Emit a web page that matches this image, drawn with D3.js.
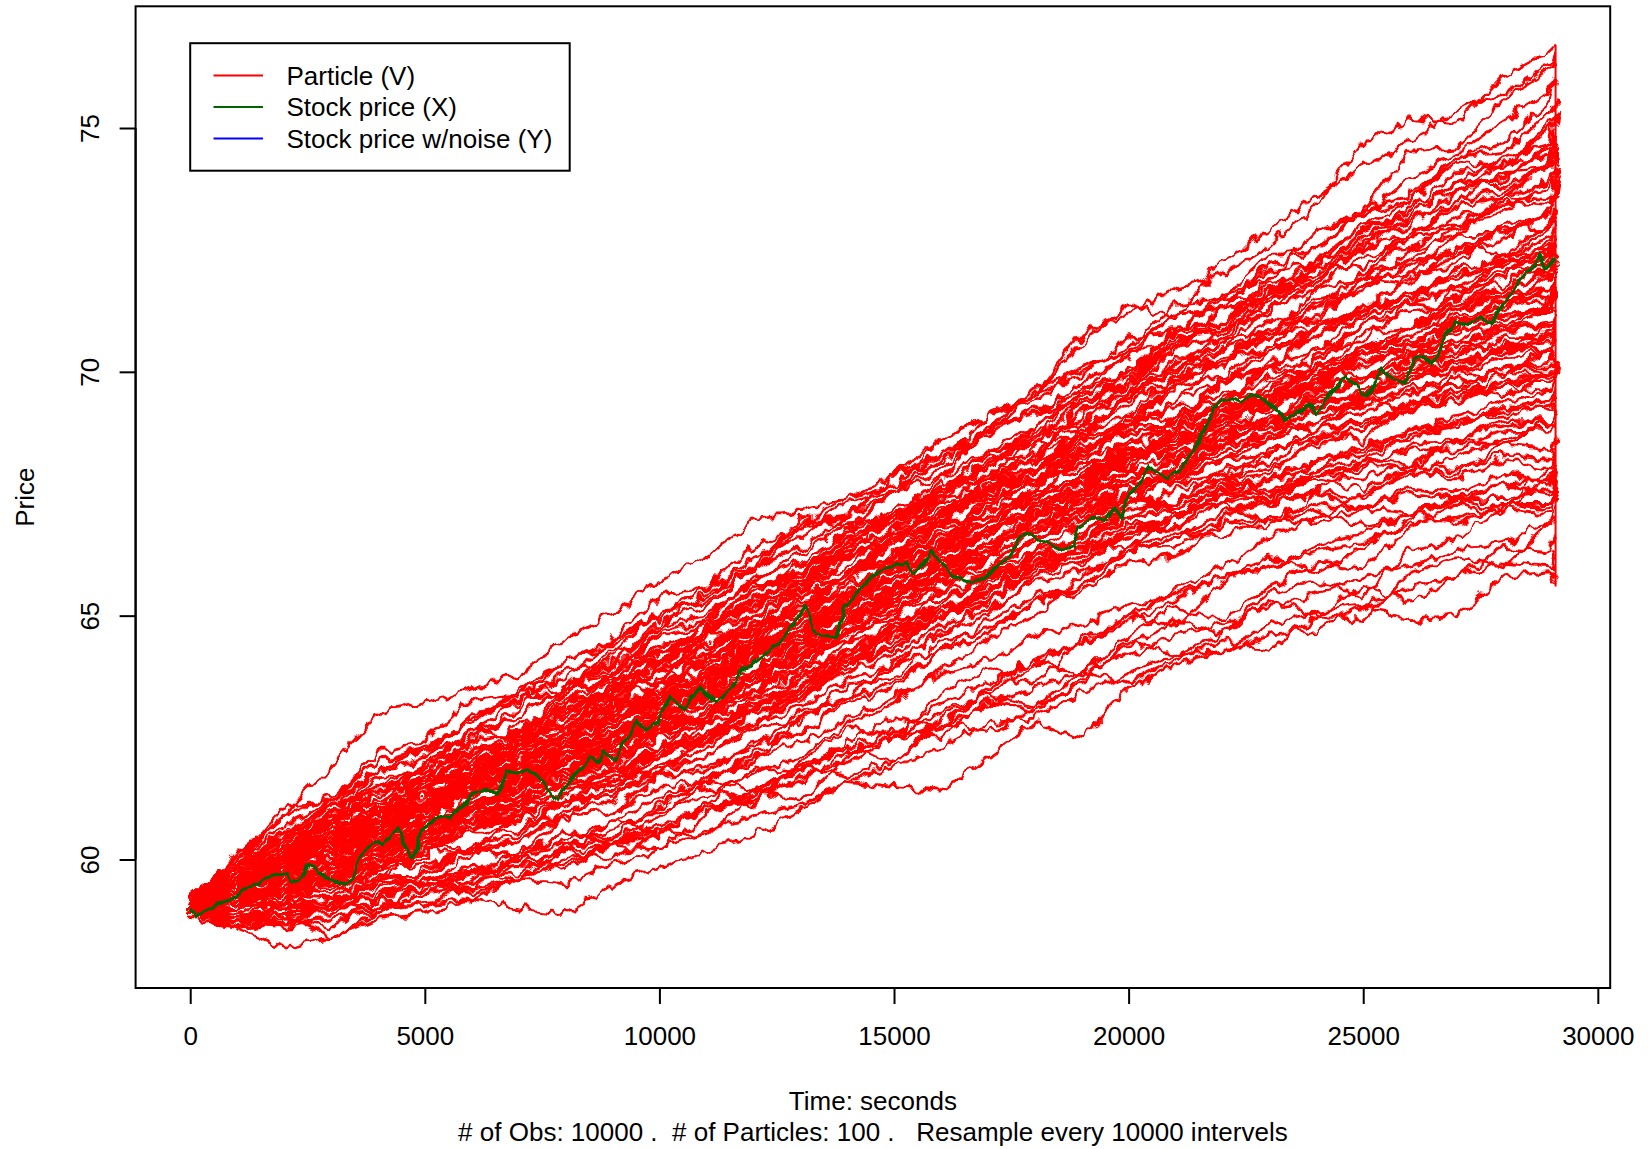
<!DOCTYPE html>
<html>
<head>
<meta charset="utf-8">
<script src="https://cdn.jsdelivr.net/npm/d3@7"></script>
<style>
  html, body { margin: 0; padding: 0; background: #fff; }
  svg text { font-family: "Liberation Sans", Arial, Helvetica, sans-serif; fill: #000; }
</style>
</head>
<body>
<svg id="chart" width="1648" height="1149"></svg>
<script>
// time grid (seconds) shared by every particle
const timeSteps = [0,1000,2000,3000,4000,5000,6000,7000,8000,9000,10000,11000,12000,13000,14000,15000,
  16000,17000,18000,19000,20000,21000,22000,23000,24000,25000,26000,27000,28000,29000,29100];

// particle paths (V), one row per particle
const particlePaths = [
  [59.0,60.1,60.9,61.9,63.0,63.2,63.5,63.8,64.5,65.1,65.7,66.2,67.0,67.1,67.4,67.9,68.6,69.1,69.5,70.8,71.2,71.7,72.0,72.6,73.4,74.7,75.2,75.1,76.1,76.6,76.7],
  [59.0,58.6,58.2,58.4,58.8,58.9,59.2,59.0,58.9,59.5,59.8,60.2,60.5,61.0,61.6,61.5,61.4,62.1,62.8,62.5,63.5,64.0,64.3,64.6,64.7,65.2,64.9,65.0,65.8,65.9,65.6],
  [59.0,58.7,58.9,58.4,58.9,59.5,59.3,59.6,60.2,60.0,60.6,60.5,61.3,61.9,61.7,62.0,62.8,62.6,63.1,63.9,63.6,64.1,64.5,64.3,65.0,64.9,65.9,66.2,66.0,66.9,67.2],
  [59.0,59.2,58.8,59.1,59.7,59.5,59.4,60.1,60.6,60.3,60.9,61.6,61.4,61.2,62.1,62.7,62.5,63.3,63.0,63.7,64.4,64.9,64.6,65.5,65.7,65.4,66.3,66.6,67.2,67.1,67.8],
  [59.0,58.6,58.8,58.6,59.2,59.0,59.6,60.1,59.8,60.3,60.2,60.9,61.4,61.9,62.3,62.0,62.9,63.4,63.1,63.6,64.5,64.2,64.6,65.3,65.0,65.6,65.3,65.8,66.4,66.3,66.6],
  [59.0,58.7,58.6,59.1,58.9,59.3,59.7,59.6,60.2,60.8,60.5,61.1,61.9,61.8,62.4,62.9,62.7,63.5,64.1,63.8,64.6,65.2,64.9,65.6,66.1,66.0,66.8,67.3,67.1,67.9,68.2],
  [59.1,58.8,59.2,59.5,59.1,59.8,60.3,60.0,60.6,60.4,61.2,61.5,61.1,62.0,62.7,62.5,63.4,63.9,63.6,64.5,65.0,64.8,65.7,66.2,65.9,66.4,67.0,67.4,67.2,68.1,68.5],
  [59.1,59.7,60.6,60.7,61.7,61.8,62.6,63.3,63.4,64.2,65.1,65.3,66.0,67.0,66.8,67.6,68.6,69.1,69.5,70.6,71.4,71.1,72.3,72.9,73.6,74.2,74.7,75.4,75.7,76.3,76.3],
  [59.0,59.6,59.9,60.7,60.5,61.4,62.0,62.3,63.1,63.0,64.0,64.7,65.2,65.9,66.6,66.4,67.6,68.3,68.1,69.4,69.8,70.9,71.0,71.9,72.9,73.3,74.5,74.6,75.6,76.2,76.5],
  [59.1,59.3,60.1,60.9,61.0,61.7,62.3,62.4,63.2,63.8,63.6,64.7,65.3,65.5,66.4,67.1,67.0,68.1,68.7,69.0,70.1,70.4,71.3,71.2,72.3,73.0,73.5,74.4,74.7,75.6,75.9],
  [59.2,60.0,60.7,61.2,62.0,62.2,62.9,63.4,63.5,64.3,64.1,64.9,65.7,65.6,66.4,67.2,67.5,68.0,68.9,69.4,69.7,70.6,71.0,71.8,72.0,72.9,73.2,73.9,74.4,74.7,75.2],
  [59.0,59.5,59.3,60.2,60.7,61.0,61.6,61.4,62.3,63.0,63.2,63.9,64.8,65.1,65.9,66.2,67.1,67.6,67.9,68.6,69.6,70.0,70.9,71.2,71.9,72.6,73.4,73.7,74.3,74.4,74.9],
  [59.0,59.2,59.4,59.9,59.8,60.5,61.0,61.6,61.5,62.3,63.0,63.3,64.3,64.9,65.2,66.1,66.4,67.2,68.0,68.1,69.0,69.8,70.2,70.7,71.7,71.9,72.8,73.4,73.6,74.3,74.6],
  [59.1,59.9,60.6,61.1,61.8,62.3,62.4,63.1,63.9,64.0,64.8,65.0,65.7,66.3,66.9,67.0,67.8,68.4,68.9,69.7,69.9,70.8,71.0,71.6,72.3,72.5,73.2,73.9,73.8,74.2,74.4],
  [59.0,59.5,59.9,60.3,60.9,61.0,61.8,61.9,62.5,62.8,63.3,63.6,64.4,64.6,65.5,65.9,66.3,67.2,67.3,68.4,68.9,69.4,70.2,70.5,71.4,71.7,72.5,72.8,73.6,73.9,74.2],
  [59.1,59.7,60.4,60.8,61.5,61.6,62.5,62.9,63.6,64.0,64.9,65.2,66.0,66.4,67.0,67.6,68.0,68.8,69.2,69.6,70.4,70.5,71.3,71.4,72.2,72.1,72.9,73.0,73.6,73.5,73.9],
  [58.9,59.2,59.0,59.6,59.5,60.2,60.7,61.0,61.7,61.8,62.7,63.0,63.8,64.1,64.9,65.3,66.3,66.6,67.3,67.6,68.5,69.0,69.8,70.0,70.9,71.3,71.9,72.4,72.7,73.3,73.5],
  [59.0,59.4,59.8,60.0,60.8,60.9,61.7,61.9,62.8,63.1,63.9,64.2,65.0,65.4,66.2,66.5,67.4,67.6,68.5,68.7,69.6,69.8,70.5,70.7,71.3,71.7,72.2,72.5,72.9,73.0,73.3],
  [59.2,60.0,60.9,61.3,62.0,62.3,62.9,63.3,63.4,64.1,64.0,64.9,65.1,66.1,66.2,67.1,67.3,68.2,68.3,69.2,69.4,70.3,70.2,71.1,71.0,71.9,71.8,72.6,72.4,73.1,73.0],
  [59.0,59.1,59.6,59.6,60.3,60.3,61.0,61.0,61.7,62.0,62.5,62.8,63.6,63.8,64.7,64.9,65.9,66.2,67.1,67.4,68.3,68.7,69.5,69.6,70.5,70.6,71.4,71.7,72.3,72.4,72.8],
  [59.1,59.4,60.2,60.8,60.6,61.5,62.1,62.0,62.4,63.3,63.1,63.5,64.4,64.6,65.2,66.0,66.1,66.7,67.6,67.8,68.2,69.1,69.6,69.4,70.3,71.0,71.2,71.5,72.3,72.2,72.6],
  [59.0,59.6,59.7,60.1,61.0,61.1,61.4,62.4,62.5,63.2,63.9,63.7,64.4,65.3,65.4,66.0,66.9,67.0,67.6,68.5,68.7,69.0,69.8,70.1,70.2,71.0,71.4,71.3,72.0,72.5,72.4],
  [58.9,58.9,59.3,59.2,59.8,60.2,60.1,61.0,61.2,61.4,62.3,62.5,63.3,63.5,64.5,64.6,65.2,66.0,66.5,67.2,67.5,68.1,69.1,68.9,69.8,70.4,70.5,71.2,71.3,72.0,72.1],
  [59.1,59.8,59.9,60.7,60.8,61.0,61.7,61.5,62.1,62.2,62.9,62.8,63.9,64.2,64.6,65.6,65.7,66.3,67.1,67.2,68.0,68.8,68.9,69.5,69.6,70.5,70.6,70.9,71.6,71.5,71.9],
  [59.0,59.3,60.0,59.9,60.7,61.0,61.9,62.2,63.0,63.2,64.1,64.4,64.8,65.7,66.0,66.8,67.0,67.8,68.0,68.3,69.1,69.0,69.3,70.1,69.9,70.5,70.9,71.0,71.5,71.4,71.7],
  [59.0,59.2,59.6,60.2,60.1,60.9,61.5,61.7,62.0,63.0,63.1,63.5,64.4,64.8,65.1,66.1,66.4,66.7,67.6,67.8,68.6,68.4,69.3,69.5,69.6,70.4,70.3,71.0,71.2,71.3,71.5],
  [59.1,59.9,60.3,61.1,61.4,61.9,62.6,62.5,63.3,63.3,64.1,63.9,64.9,65.0,65.9,66.0,66.4,67.4,67.4,68.3,68.4,68.5,69.2,69.2,70.1,69.9,70.2,70.9,70.8,71.4,71.3],
  [58.9,59.3,59.1,59.8,59.9,60.6,60.6,61.5,61.6,62.3,62.9,62.9,63.9,64.0,64.9,65.6,65.5,66.5,66.7,67.4,68.0,67.9,68.8,68.8,69.5,69.9,69.8,70.6,70.5,70.9,71.0],
  [59.0,59.6,59.8,60.4,60.3,61.1,61.1,61.6,62.1,62.0,62.9,63.4,63.4,64.4,64.6,65.3,65.5,66.2,66.5,67.4,67.3,68.1,68.6,68.6,69.5,69.4,70.1,70.1,70.6,70.4,70.7],
  [59.1,59.8,60.0,61.0,60.9,61.8,61.9,62.3,62.5,63.0,63.0,63.8,63.9,64.6,65.0,65.4,66.1,66.2,67.1,67.1,67.8,68.2,68.2,68.9,68.8,69.5,69.5,70.0,69.9,70.5,70.4],
  [58.9,59.1,59.0,59.6,59.6,60.3,60.2,60.9,60.8,61.6,61.7,62.6,62.7,63.6,63.8,64.8,64.9,65.7,66.1,66.4,67.2,67.3,68.0,68.1,68.7,68.6,69.4,69.4,70.0,69.9,70.1],
  [59.0,59.7,59.8,60.6,60.7,61.6,61.6,62.5,62.6,63.5,63.4,64.4,64.7,65.2,65.9,66.2,66.9,67.1,67.8,68.1,68.3,68.7,68.5,69.1,68.8,69.5,69.2,69.9,69.5,70.0,69.8],
  [59.0,59.2,59.8,59.8,60.5,60.6,61.2,61.2,61.8,61.8,62.3,62.5,63.2,63.3,64.1,64.3,65.0,65.2,66.1,66.0,66.8,66.8,67.6,67.5,68.2,68.3,68.8,68.9,69.3,69.2,69.5],
  [58.9,58.7,59.1,59.0,59.6,59.7,60.2,60.1,60.9,61.0,61.7,61.9,62.3,63.0,63.3,64.0,64.3,64.9,65.4,65.6,66.4,66.4,67.0,67.4,67.5,68.2,68.1,68.6,68.9,69.0,69.2],
  [59.0,59.5,59.7,60.3,60.5,61.1,61.0,61.7,61.7,62.4,62.3,63.1,63.3,63.9,64.2,64.9,65.1,65.5,66.2,66.3,66.9,66.8,67.5,67.4,67.9,68.1,68.0,68.6,68.5,69.0,68.9],
  [59.0,59.6,59.7,60.5,60.3,60.9,60.7,61.2,61.1,61.7,61.8,62.1,62.7,62.8,63.6,63.7,64.5,64.7,65.3,65.5,66.1,66.2,66.9,66.8,67.5,67.4,68.0,67.9,68.5,68.4,68.6],
  [59.1,59.5,60.3,60.4,61.4,61.5,62.3,62.4,63.5,63.6,64.7,64.9,65.8,66.1,66.7,67.6,67.8,68.9,69.1,69.8,70.3,71.2,71.3,72.2,72.5,73.4,73.6,74.4,74.5,75.4,75.5],
  [59.0,59.3,59.4,60.0,60.0,60.8,60.8,61.8,62.0,62.9,63.3,64.2,64.4,65.4,65.7,66.6,66.8,67.9,68.2,69.2,69.6,70.5,70.7,71.6,72.0,72.9,73.3,74.1,74.2,75.1,75.3],
  [59.2,60.0,61.1,61.2,62.2,62.4,63.3,63.4,64.1,64.4,65.0,65.6,66.0,66.9,67.0,67.9,68.3,68.8,69.7,70.0,70.5,71.4,71.5,72.4,72.5,73.3,73.5,74.3,74.2,75.0,75.0],
  [59.0,59.2,60.0,60.3,61.0,61.1,62.1,62.5,63.6,63.8,64.8,65.5,65.9,66.8,67.0,67.9,68.1,69.1,69.4,70.1,70.4,71.2,71.3,72.1,72.2,73.0,73.2,73.9,73.9,74.7,74.8],
  [59.0,59.4,59.3,60.2,60.3,60.6,61.4,61.5,62.4,62.5,63.3,63.8,64.1,64.9,65.3,66.2,66.5,67.5,67.9,68.9,69.3,70.2,70.6,71.5,71.8,72.7,73.0,73.7,74.0,74.6,74.7],
  [59.1,59.9,60.1,61.0,61.3,62.0,62.2,62.6,63.4,63.7,64.4,64.6,65.4,65.7,66.5,67.0,67.4,68.4,68.5,69.4,69.8,70.6,70.9,71.7,71.9,72.8,73.1,73.5,74.1,74.2,74.5],
  [59.0,59.7,59.9,60.7,60.8,61.7,61.7,62.8,62.9,63.9,64.1,64.7,65.6,65.9,66.8,67.0,67.5,68.4,68.6,69.6,69.8,70.7,70.8,71.7,71.8,72.6,72.8,73.5,73.7,74.2,74.3],
  [58.9,59.0,59.4,59.3,59.9,60.0,60.9,61.0,62.1,62.3,63.3,63.4,64.4,64.8,65.3,66.3,66.5,67.4,67.7,68.6,68.9,69.8,70.2,70.9,71.3,72.0,72.3,73.0,73.3,74.0,74.1],
  [59.0,59.6,59.6,60.4,60.3,61.2,61.3,62.0,62.3,62.7,63.6,64.0,64.7,64.9,65.9,66.1,67.0,67.6,68.3,68.7,69.5,70.1,70.5,71.3,71.7,72.4,72.5,73.2,73.4,73.8,74.0],
  [59.2,59.8,60.6,60.9,61.8,62.1,63.0,63.2,64.1,64.5,65.4,65.6,66.4,66.8,67.4,67.7,68.3,68.7,69.6,69.9,70.7,70.8,71.5,71.5,72.2,72.1,72.8,72.9,73.5,73.4,73.8],
  [59.0,59.1,59.5,59.5,60.2,60.3,61.0,61.1,61.9,61.9,62.8,62.9,63.8,64.0,64.9,65.1,66.1,66.3,67.3,67.5,68.6,68.8,69.9,70.0,71.0,71.2,72.0,72.2,73.0,73.2,73.6],
  [59.1,59.7,60.0,60.7,60.9,61.6,61.7,62.5,62.6,63.6,63.6,64.6,64.6,65.6,65.8,66.7,66.9,67.8,67.9,68.8,69.1,69.9,70.1,70.9,71.1,71.9,72.0,72.8,72.8,73.3,73.4],
  [59.0,59.2,59.9,60.0,60.8,61.0,61.9,62.2,63.1,63.5,64.4,64.6,65.6,65.8,66.7,66.9,67.7,68.0,68.8,68.9,69.8,69.9,70.7,70.8,71.5,71.6,72.3,72.4,72.9,73.0,73.2],
  [59.0,59.6,59.7,60.4,60.5,61.2,61.0,61.7,61.8,62.5,62.5,63.4,63.6,64.4,64.8,65.6,65.8,66.8,67.0,67.9,68.2,69.1,69.3,70.2,70.4,71.2,71.4,72.1,72.3,73.0,73.1],
  [59.1,59.9,60.2,61.0,61.1,62.0,61.9,62.6,62.7,63.2,63.4,64.2,64.3,65.2,65.4,66.2,66.6,67.3,67.7,68.4,68.8,69.4,69.8,70.4,70.7,71.3,71.5,72.1,72.3,72.8,72.9],
  [58.9,59.1,59.3,59.7,59.8,60.5,60.8,61.6,62.0,62.9,63.3,64.2,64.5,65.4,65.7,66.5,66.8,67.7,67.9,68.7,68.9,69.7,69.9,70.5,70.7,71.4,71.5,72.0,72.2,72.6,72.7],
  [59.0,59.6,59.7,60.4,60.5,61.2,61.3,61.9,62.2,62.7,63.0,63.7,63.8,64.7,65.0,65.8,65.9,66.8,67.2,67.8,68.1,68.9,69.0,69.8,70.0,70.8,70.9,71.7,71.8,72.4,72.5],
  [58.9,58.8,59.2,59.1,59.6,59.7,60.3,60.5,61.2,61.4,62.1,62.5,63.2,63.5,64.3,64.6,65.5,65.8,66.6,66.9,67.7,68.3,68.6,69.4,69.7,70.5,70.7,71.3,71.6,72.1,72.3],
  [59.0,59.7,60.0,60.5,61.1,61.4,62.2,62.4,63.2,63.5,64.3,64.6,65.3,65.8,66.6,67.0,67.6,67.8,68.7,68.8,69.5,69.7,70.3,70.4,70.9,71.1,71.6,71.6,72.1,72.0,72.2],
  [59.0,59.1,59.6,59.8,60.3,60.5,61.1,61.4,62.2,62.5,63.1,63.6,64.2,64.6,65.3,65.6,66.4,66.6,67.3,67.7,68.4,68.6,69.2,69.4,70.1,70.3,70.9,71.0,71.6,71.7,72.0],
  [59.1,59.8,60.1,60.8,61.2,61.7,61.7,62.1,62.2,62.6,62.7,63.4,63.7,64.3,64.8,65.4,65.8,66.5,66.8,67.6,68.0,68.7,68.8,69.5,69.8,70.4,70.5,71.1,71.3,71.7,71.8],
  [59.0,59.1,59.5,59.6,60.1,60.3,60.7,60.9,61.4,61.5,62.1,62.4,63.0,63.3,64.0,64.3,65.1,65.4,66.3,66.6,67.5,67.9,68.7,68.9,69.6,69.8,70.5,70.6,71.2,71.3,71.6],
  [59.0,59.5,59.7,60.4,60.4,61.1,61.5,62.2,62.5,63.4,63.7,64.4,64.7,65.5,65.8,66.6,66.9,67.6,68.0,68.7,68.9,69.3,69.4,69.9,70.1,70.5,70.6,71.0,71.1,71.4,71.4],
  [58.9,58.7,59.0,59.0,59.5,59.5,60.1,60.4,61.0,61.2,61.9,62.3,63.0,63.2,64.0,64.4,65.1,65.5,66.2,66.6,67.3,67.8,68.4,68.6,69.3,69.5,70.2,70.3,70.9,70.9,71.2],
  [59.1,59.5,60.2,60.4,61.0,61.4,62.0,62.1,62.7,62.9,63.5,63.6,64.5,64.6,65.4,65.7,66.5,66.7,67.5,67.7,68.3,68.4,69.0,69.3,69.7,69.9,70.4,70.5,71.0,70.9,71.1],
  [59.0,59.3,60.0,60.1,60.9,61.1,61.9,62.3,63.0,63.5,64.3,64.5,65.4,65.6,66.5,66.9,67.5,67.8,68.2,68.3,68.9,68.9,69.3,69.3,69.8,69.8,70.3,70.3,70.7,70.7,70.9],
  [59.0,59.2,59.6,59.8,60.4,60.5,61.1,61.4,61.9,62.1,62.7,62.9,63.6,63.9,64.7,64.9,65.7,65.9,66.6,67.0,67.7,67.9,68.5,68.7,69.2,69.4,70.0,70.0,70.5,70.6,70.8],
  [59.1,59.7,60.5,60.7,61.4,61.7,62.4,62.6,63.1,63.4,64.1,64.3,65.0,65.5,66.2,66.6,67.2,67.4,68.0,68.2,68.8,68.8,69.3,69.4,69.8,69.8,70.2,70.2,70.5,70.4,70.6],
  [58.9,59.0,59.4,59.4,59.9,60.1,60.6,60.6,61.2,61.3,61.9,62.1,62.8,63.1,63.7,64.0,64.7,65.0,65.8,66.1,66.7,67.0,67.7,67.9,68.6,68.8,69.4,69.6,70.1,70.2,70.5],
  [59.0,59.6,59.8,60.5,60.6,61.2,61.4,61.8,62.2,62.3,62.9,63.2,63.9,64.2,64.9,65.2,65.8,66.2,66.8,67.1,67.7,67.8,68.4,68.6,69.0,69.2,69.6,69.7,70.1,70.1,70.3],
  [59.0,59.3,59.8,60.0,60.6,60.8,61.6,61.8,62.5,62.8,63.4,63.8,64.6,64.9,65.6,66.0,66.7,66.9,67.6,67.8,68.3,68.3,68.7,68.8,69.2,69.3,69.7,69.7,70.1,70.0,70.2],
  [59.1,59.8,60.0,60.7,60.8,61.4,61.4,61.8,61.8,62.2,62.3,62.9,63.1,63.7,64.0,64.7,64.9,65.8,66.0,66.7,67.0,67.6,67.8,68.4,68.6,69.0,69.2,69.6,69.7,70.0,70.0],
  [59.0,59.1,59.7,59.8,60.3,60.6,61.1,61.3,61.9,62.2,62.9,62.9,63.8,64.1,64.8,65.0,65.8,66.0,66.8,67.0,67.7,67.7,68.2,68.3,68.8,68.9,69.3,69.4,69.7,69.6,69.9],
  [59.0,59.5,59.8,60.3,60.6,61.4,61.6,62.4,62.8,63.6,64.0,64.5,65.2,65.6,66.3,66.8,67.3,67.5,68.0,68.1,68.0,67.7,67.9,67.5,67.8,67.6,68.0,67.8,68.2,68.0,68.3],
  [58.8,58.6,58.9,58.9,59.3,59.4,59.7,60.0,60.4,60.8,61.3,61.6,62.2,62.6,63.2,63.5,64.3,64.6,65.3,65.6,66.3,66.6,67.1,67.4,68.0,68.2,68.7,68.9,69.3,69.4,69.6],
  [59.0,59.6,60.0,60.4,60.9,61.3,61.7,62.1,62.4,62.9,63.4,63.8,64.3,64.7,65.4,65.8,66.3,66.7,67.1,67.4,67.4,67.2,67.6,67.3,67.5,67.2,67.6,67.5,67.9,67.7,67.9],
  [59.0,59.3,59.7,59.8,60.3,60.4,60.8,60.8,61.2,61.3,61.7,61.8,62.4,62.6,63.3,63.6,64.3,64.6,65.3,65.6,66.3,66.6,67.1,67.3,67.9,68.0,68.5,68.6,69.0,69.0,69.3],
  [59.1,59.8,60.1,60.7,61.2,61.5,62.2,62.4,63.0,63.2,63.9,64.1,64.8,65.0,65.9,66.1,66.8,67.0,67.5,67.7,67.6,67.1,67.3,66.9,67.2,66.8,67.1,66.9,67.3,67.2,67.4],
  [58.9,59.2,59.3,59.7,59.9,60.3,60.7,60.9,61.4,61.6,62.2,62.5,63.1,63.4,64.2,64.5,65.1,65.3,66.0,66.2,66.7,66.8,67.3,67.5,67.9,68.1,68.4,68.4,68.8,68.8,69.0],
  [59.0,59.5,59.8,60.3,60.3,60.8,61.0,61.3,61.5,61.8,62.1,62.5,62.8,63.3,63.9,64.2,64.8,65.1,65.7,65.9,66.3,66.6,66.9,67.0,67.3,67.2,67.5,67.4,67.7,67.5,67.7],
  [59.0,59.1,59.6,59.7,60.3,60.4,61.2,61.4,62.1,62.5,63.2,63.5,64.1,64.5,65.2,65.5,66.2,66.4,66.9,67.0,67.4,67.3,67.7,67.6,67.9,67.8,68.1,68.0,68.3,68.2,68.4],
  [58.9,58.7,59.1,59.1,59.5,59.6,59.8,59.9,60.2,60.3,60.7,61.0,61.4,61.8,62.3,62.6,63.2,63.6,64.1,64.4,64.9,65.3,65.8,66.0,66.4,66.7,67.1,67.3,67.7,67.8,68.0],
  [59.0,59.6,60.0,60.5,60.6,61.2,61.3,61.8,61.8,62.4,62.6,63.2,63.4,64.1,64.5,65.1,65.3,65.9,66.0,66.4,66.4,66.7,66.6,67.0,66.9,67.2,67.1,67.4,67.4,67.6,67.6],
  [59.1,59.4,60.0,60.5,60.9,61.6,61.8,62.6,62.8,63.5,63.9,64.6,65.0,65.7,66.3,66.8,67.5,68.1,68.9,69.5,70.0,70.8,71.6,71.9,72.9,73.2,74.0,74.5,75.1,75.8,76.0],
  [58.9,58.8,58.7,59.1,59.0,59.4,59.8,59.7,60.3,60.4,61.1,61.7,62.0,62.9,63.3,64.1,64.6,65.3,65.9,66.4,67.3,67.8,68.6,69.0,69.7,70.3,70.9,71.5,72.0,72.7,73.0],
  [59.1,60.0,60.4,61.2,61.8,62.3,62.8,63.5,63.7,64.5,65.0,65.4,66.2,66.6,67.3,67.6,68.2,68.7,69.2,69.3,69.8,70.1,70.2,70.8,70.9,71.3,71.6,71.9,72.4,72.5,72.7],
  [59.0,59.3,59.3,59.9,60.4,60.3,61.1,61.5,62.0,62.3,62.9,63.5,63.7,64.5,65.0,65.5,66.1,66.4,67.2,67.5,68.3,68.5,69.2,69.5,70.1,70.5,70.9,71.4,71.7,72.3,72.4],
  [59.0,59.6,60.1,60.1,60.8,61.4,61.3,62.1,62.2,62.7,63.4,63.5,64.3,64.4,65.2,65.8,65.9,66.7,67.1,67.6,68.2,68.4,69.1,69.2,69.9,70.1,70.6,70.9,71.4,71.7,72.0],
  [59.0,58.8,59.0,58.9,59.4,59.6,59.7,60.2,60.3,60.6,61.0,61.3,61.8,62.1,62.8,63.2,63.9,64.5,65.0,65.8,66.4,67.0,67.7,68.3,68.8,69.4,70.0,70.5,70.9,71.5,71.8],
  [59.1,59.7,59.8,60.5,60.9,61.2,61.7,61.9,62.6,62.9,63.6,63.7,64.6,64.9,65.7,65.9,66.5,66.9,67.6,67.8,68.4,68.6,69.1,69.4,69.8,70.2,70.5,70.8,71.1,71.3,71.5],
  [59.0,59.4,60.1,60.2,60.8,60.9,61.5,61.9,62.6,62.7,63.4,63.5,64.3,64.6,65.3,65.4,66.2,66.3,67.0,67.3,68.0,68.3,68.8,69.0,69.5,69.8,70.3,70.4,70.8,71.0,71.2],
  [58.9,59.2,59.4,59.6,60.1,60.4,60.6,61.2,61.3,61.9,62.1,62.8,63.0,63.8,64.1,64.8,65.2,65.9,66.3,66.9,67.3,67.8,68.2,68.6,69.0,69.5,69.8,70.2,70.4,70.8,71.0],
  [59.0,59.5,59.6,60.2,60.6,61.0,61.4,61.5,62.2,62.4,63.0,63.4,63.9,64.5,64.8,65.6,65.8,66.5,66.8,67.5,67.8,68.2,68.6,68.9,69.3,69.6,69.9,70.2,70.4,70.7,70.8],
  [59.1,59.9,60.5,61.1,61.5,62.0,62.6,62.9,63.6,63.9,64.6,64.8,65.5,65.9,66.4,66.7,67.1,67.5,67.8,68.0,68.4,68.5,68.9,69.0,69.4,69.5,69.9,70.0,70.3,70.4,70.5],
  [59.0,59.2,59.4,59.9,60.0,60.6,60.8,61.1,61.6,61.7,62.3,62.6,63.1,63.6,64.0,64.6,64.9,65.5,66.0,66.4,67.0,67.3,67.8,68.0,68.5,68.8,69.2,69.4,69.8,70.0,70.2],
  [59.0,59.6,59.9,60.4,60.8,61.3,61.6,62.0,62.4,62.8,63.3,63.5,64.2,64.4,65.1,65.3,66.0,66.2,66.8,67.0,67.5,67.7,68.2,68.3,68.8,69.0,69.3,69.5,69.8,69.8,70.0],
  [58.9,59.0,59.5,59.5,60.0,60.1,60.7,60.8,61.5,61.6,62.3,62.4,63.2,63.4,64.1,64.3,65.0,65.3,66.0,66.2,66.8,67.0,67.5,67.8,68.2,68.5,68.8,69.1,69.4,69.6,69.8],
  [59.1,59.5,60.1,60.3,60.9,61.1,61.6,61.8,62.3,62.6,62.9,63.3,63.6,64.2,64.5,65.1,65.3,65.8,66.2,66.5,67.0,67.2,67.6,67.8,68.2,68.4,68.8,69.0,69.2,69.4,69.6],
  [59.0,59.3,59.5,60.1,60.2,60.7,61.0,61.3,61.9,62.0,62.6,62.8,63.4,63.7,64.3,64.7,65.1,65.6,65.8,66.4,66.6,67.1,67.3,67.8,68.0,68.5,68.6,69.0,69.1,69.3,69.3],
  [58.9,58.6,58.7,58.8,58.9,59.3,59.4,59.6,60.0,60.3,60.6,61.0,61.3,61.6,62.2,62.5,63.0,63.4,64.0,64.4,65.0,65.5,66.0,66.6,67.0,67.5,67.9,68.3,68.6,69.0,69.1],
  [59.0,59.2,59.3,59.5,59.8,59.9,60.2,60.4,60.9,61.0,61.5,61.6,62.1,62.4,62.9,63.3,63.8,64.1,64.6,64.8,65.2,65.4,65.8,66.0,66.3,66.5,66.9,67.0,67.3,67.3,67.5],
  [59.0,58.7,58.9,59.2,59.2,59.6,59.5,59.9,59.9,60.3,60.5,61.1,61.2,61.7,62.0,62.5,62.7,63.2,63.5,63.9,64.2,64.6,64.8,65.2,65.4,65.8,66.0,66.4,66.5,66.9,67.0],
  [59.0,58.9,58.6,58.8,59.0,59.1,59.2,59.6,59.5,59.9,60.2,60.6,60.9,61.1,61.6,61.9,62.3,62.8,62.9,63.4,63.8,64.2,64.3,64.8,65.1,65.2,65.6,65.8,66.1,66.0,66.3],
  [59.0,59.5,59.9,60.6,60.7,61.3,61.6,62.3,62.5,63.1,63.4,64.1,64.2,65.0,65.3,66.0,66.4,66.9,67.4,67.9,68.3,68.8,69.3,69.6,70.1,70.5,70.9,71.3,71.7,72.0,72.2]
];

// stock price (X), time and value pairs
const stockTime = [0,100,210,420,640,850,1030,1210,1420,1590,1770,1920,2060,2160,2340,2540,2630,2910,3130,3310,
  3450,3620,3840,4010,4120,4260,4400,4510,4700,4830,4900,5190,5400,5540,5680,5880,6040,6250,6540,6730,
  7000,7210,7500,7820,7960,8070,8350,8540,8740,8820,9070,9210,9350,9520,9720,9970,10210,10500,10900,11190,
  11600,11780,12170,12580,12900,13100,13350,13800,13970,14130,14290,14780,15270,15430,15800,16240,16550,16930,17410,17690,
  17900,18200,18560,18800,18950,19250,19520,19700,19850,20000,20280,20470,20850,21140,21430,21710,21810,22000,22190,22380,
  22660,22950,23330,23620,23860,24000,24520,24660,25050,25430,25620,25900,26090,26280,26470,26660,26950,27140,27520,27710,
  27900,28280,28470,28660,28760,28900,29050,29100];
const stockPrice = [58.97,58.80,58.87,58.97,59.11,59.17,59.28,59.41,59.50,59.62,59.65,59.70,59.75,59.52,59.60,59.89,59.86,59.60,59.55,59.50,
  59.60,60.06,60.27,60.37,60.30,60.47,60.64,60.44,60.03,60.16,60.58,60.81,60.90,60.85,60.98,61.18,61.33,61.41,61.36,61.80,
  61.75,61.84,61.63,61.21,61.43,61.57,61.91,62.11,62.01,62.21,62.01,62.39,62.56,62.84,62.63,62.84,63.33,63.12,63.54,63.19,
  63.61,63.89,64.17,64.45,64.87,65.20,64.62,64.55,65.19,65.35,65.60,65.98,66.09,65.84,66.34,65.80,65.70,65.75,66.17,66.62,
  66.69,66.50,66.34,66.41,66.83,67.03,66.95,67.21,66.98,67.42,67.79,68.06,67.79,68.06,68.47,68.95,69.29,69.43,69.46,69.36,
  69.53,69.39,69.02,69.15,69.36,69.09,69.84,69.91,69.50,70.08,69.84,69.77,70.28,70.32,70.15,70.59,71.03,70.93,71.14,70.97,
  71.27,71.82,72.06,72.16,72.44,72.09,72.30,72.30];

const priceRange = [58.11, 76.75];   // data range of all series, as drawn
const xTicks = [0, 5000, 10000, 15000, 20000, 25000, 30000];
const yTicks = [60, 65, 70, 75];
const legendLabels = ["Particle (V)", "Stock price (X)", "Stock price w/noise (Y)"];
const legendColors = ["#ff0000", "#006400", "#0000ff"];
const xTitle = "Time: seconds";
const yTitle = "Price";
const subTitle = "# of Obs: 10000 .  # of Particles: 100 .   Resample every 10000 intervels";

const box = {left: 135.6, right: 1610.2, top: 6.3, bottom: 988};
const fontSize = 26;

// R style axis range: data range widened by 4% at each end
const widen = (e) => { const r = e[1] - e[0]; return [e[0] - 0.04 * r, e[1] + 0.04 * r]; };

const x = d3.scaleLinear().domain(widen([0, d3.max(timeSteps)])).range([box.left, box.right]);
const y = d3.scaleLinear().domain(widen(priceRange)).range([box.bottom, box.top]);

const svg = d3.select('#chart');
const defs = svg.append('defs');

defs.append('clipPath').attr('id', 'plotclip')
   .append('rect')
   .attr('x', box.left).attr('y', box.top)
   .attr('width', box.right - box.left).attr('height', box.bottom - box.top);

// fine jitter on the strokes (the particle traces are sampled every 1000 s,
// the picture shows their sub-step roughness)
function roughFilter(id, scale, seed) {
  const f = defs.append('filter').attr('id', id)
     .attr('filterUnits', 'userSpaceOnUse')
     .attr('x', box.left).attr('y', box.top)
     .attr('width', box.right - box.left).attr('height', box.bottom - box.top);
  f.append('feTurbulence')
     .attr('type', 'fractalNoise')
     .attr('baseFrequency', '0.09 0.05')
     .attr('numOctaves', 2)
     .attr('seed', seed)
     .attr('result', 'noise');
  f.append('feDisplacementMap')
     .attr('in', 'SourceGraphic').attr('in2', 'noise')
     .attr('scale', scale)
     .attr('xChannelSelector', 'R').attr('yChannelSelector', 'G');
}
roughFilter('rough', 16, 3);
roughFilter('roughLight', 7, 11);

const plot = svg.append('g').attr('clip-path', 'url(#plotclip)');

const particleLine = d3.line()
  .defined((d, i) => i < timeSteps.length)
  .x((d, i) => x(timeSteps[i]))
  .y(d => y(d));

plot.append('g')
    .attr('filter', 'url(#rough)')
    .selectAll('path.particle')
    .data(particlePaths)
    .enter()
    .append('path')
    .attr('class', 'particle')
    .attr('d', particleLine)
    .attr('fill', 'none')
    .attr('stroke', legendColors[0])
    .attr('stroke-width', 2.8)
    .attr('stroke-linejoin', 'round')
    .attr('stroke-linecap', 'round');

// closing segment at the last time step, spanning the particles' final values
const lastValues = particlePaths.map(p => p[p.length - 1]);
const tEnd = timeSteps[timeSteps.length - 1];
plot.append('line')
    .attr('x1', x(tEnd)).attr('x2', x(tEnd))
    .attr('y1', y(d3.min(lastValues))).attr('y2', y(d3.max(lastValues)))
    .attr('stroke', legendColors[0])
    .attr('stroke-width', 2);

const stockLine = d3.line()
  .x((d, i) => x(stockTime[i]))
  .y(d => y(d));

plot.append('path')
    .datum(stockPrice)
    .attr('d', stockLine)
    .attr('filter', 'url(#roughLight)')
    .attr('fill', 'none')
    .attr('stroke', legendColors[1])
    .attr('stroke-width', 3)
    .attr('stroke-linejoin', 'round');

// plot frame
svg.append('rect')
   .attr('x', box.left).attr('y', box.top)
   .attr('width', box.right - box.left).attr('height', box.bottom - box.top)
   .attr('fill', 'none').attr('stroke', '#000').attr('stroke-width', 2);

// x axis
const xAxis = d3.axisBottom(x).tickValues(xTicks).tickSize(16).tickPadding(23).tickFormat(d3.format('d'));
const gx = svg.append('g')
   .attr('transform', 'translate(0,' + box.bottom + ')')
   .call(xAxis);
gx.select('.domain').remove();
gx.selectAll('.tick line').attr('stroke', '#000').attr('stroke-width', 2);
gx.selectAll('.tick text').attr('font-size', fontSize).attr('fill', '#000');
gx.append('line')
  .attr('x1', x(xTicks[0])).attr('x2', x(xTicks[xTicks.length - 1]))
  .attr('y1', 0).attr('y2', 0)
  .attr('stroke', '#000').attr('stroke-width', 2);

// y axis, labels parallel to the axis
const yAxis = d3.axisLeft(y).tickValues(yTicks).tickSize(16);
const gy = svg.append('g')
   .attr('transform', 'translate(' + box.left + ',0)')
   .call(yAxis);
gy.select('.domain').remove();
gy.selectAll('.tick line').attr('stroke', '#000').attr('stroke-width', 2);
gy.selectAll('.tick text')
  .attr('font-size', fontSize)
  .attr('fill', '#000')
  .attr('x', null).attr('dy', null)
  .attr('text-anchor', 'middle')
  .attr('transform', 'translate(' + (99 - box.left) + ',0) rotate(-90)');
gy.append('line')
  .attr('x1', 0).attr('x2', 0)
  .attr('y1', y(yTicks[0])).attr('y2', y(yTicks[yTicks.length - 1]))
  .attr('stroke', '#000').attr('stroke-width', 2);

// titles
const midX = (box.left + box.right) / 2;
svg.append('text')
   .attr('x', midX).attr('y', 1109.5)
   .attr('text-anchor', 'middle')
   .attr('font-size', fontSize)
   .text(xTitle);

svg.append('text')
   .attr('x', midX).attr('y', 1141)
   .attr('text-anchor', 'middle')
   .attr('font-size', fontSize)
   .style('white-space', 'pre')
   .text(subTitle);

svg.append('text')
   .attr('transform', 'translate(34,' + ((box.top + box.bottom) / 2) + ') rotate(-90)')
   .attr('text-anchor', 'middle')
   .attr('font-size', fontSize)
   .text(yTitle);

// legend
const legend = svg.append('g');
legend.append('rect')
  .attr('x', 190.2).attr('y', 43.2)
  .attr('width', 379.5).attr('height', 127.5)
  .attr('fill', '#fff').attr('stroke', '#000').attr('stroke-width', 2);

const rows = legend.selectAll('g.row')
  .data(legendLabels)
  .enter()
  .append('g')
  .attr('class', 'row')
  .attr('transform', (d, i) => 'translate(0,' + (75.5 + i * 31.5) + ')');

rows.append('line')
  .attr('x1', 213.5).attr('x2', 263)
  .attr('y1', 0).attr('y2', 0)
  .attr('stroke', (d, i) => legendColors[i])
  .attr('stroke-width', 2);

rows.append('text')
  .attr('x', 286.5).attr('y', 9.3)
  .attr('font-size', fontSize)
  .text(d => d);
</script>
</body>
</html>
